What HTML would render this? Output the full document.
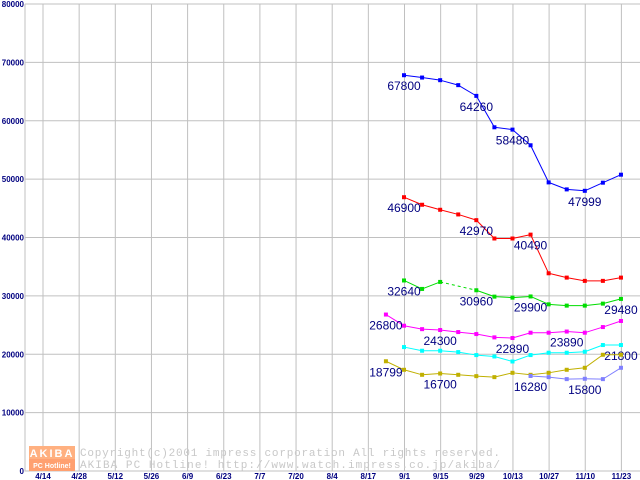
<!DOCTYPE html>
<html><head><meta charset="utf-8"><style>
body{margin:0;background:#fff}
svg{display:block}
</style></head><body>
<svg id="chart" width="640" height="480" xmlns="http://www.w3.org/2000/svg" font-family="Liberation Sans, sans-serif"></svg>
<script>
const dateLabels=["4/14","4/28","5/12","5/26","6/9","6/23","7/7","7/20","8/4","8/17","9/1","9/15","9/29","10/13","10/27","11/10","11/23"];
const yTicks=[0,10000,20000,30000,40000,50000,60000,70000,80000];
// week index relative to 9/1 (index 0); -1 = 8/25
const blueVals=[67800,67400,66950,66100,64260,58880,58480,55800,49440,48240,47999,49390,50760];
const redVals=[46900,45610,44750,43950,42970,39830,39830,40490,33870,33130,32570,32570,33130];
const greenVals=[32640,31190,32390,null,30960,29870,29700,29900,28550,28330,28330,28670,29480];
const magentaVals=[26800,24890,24300,24150,23800,23460,22890,22780,23690,23690,23890,23690,24660,25700];
const cyanVals=[21230,20600,20600,20370,19860,19620,18760,19860,20260,20260,20430,21580,21580];
const oliveVals=[18799,17340,16480,16700,16480,16250,16080,16820,16480,16820,17340,17680,19910,19910];
const lavenderVals=[16280,16080,15740,15800,15740,17680];
const series=[
 {name:"blue",color:"#0000ff",start:0,vals:blueVals,labels:{0:"67800",4:"64260",6:"58480",10:"47999"}},
 {name:"red",color:"#ff0000",start:0,vals:redVals,labels:{0:"46900",4:"42970",7:"40490"}},
 {name:"green",color:"#00dd00",start:0,vals:greenVals,labels:{0:"32640",4:"30960",7:"29900",12:"29480"}},
 {name:"magenta",color:"#ff00ff",start:-1,vals:magentaVals,labels:{0:"26800",3:"24300",7:"22890",10:"23890"}},
 {name:"cyan",color:"#00ffff",start:0,vals:cyanVals,labels:{12:"21800"}},
 {name:"olive",color:"#c0b000",start:-1,vals:oliveVals,labels:{0:"18799",3:"16700"}},
 {name:"lavender",color:"#8080ff",start:7,vals:lavenderVals,labels:{0:"16280",3:"15800"}}
];
const NS="http://www.w3.org/2000/svg";
const svg=document.getElementById('chart');
const X0=25,Y0=471,YT=4;
function yS(v){return Y0-(v/80000)*(Y0-YT);}
function xG(i){return 43+i*36.15;}
function xW(w){return 404+w*18.08;}
function mk(t,a,p){const e=document.createElementNS(NS,t);for(const k in a)e.setAttribute(k,a[k]);(p||svg).appendChild(e);return e;}
yTicks.forEach(v=>{
 const l=mk('line',{x1:X0,x2:640,y1:yS(v),y2:yS(v),stroke:'#c0c0c0','stroke-width':1});
 
 
 const t=mk('text',{x:X0-1,y:yS(v)+3,'text-anchor':'end','font-size':8,'font-weight':'bold',fill:'#000080'});
 t.textContent=v;
 
 
});
dateLabels.forEach((d,i)=>{
 const x=xG(i);
 const l=mk('line',{x1:x,x2:x,y1:YT,y2:Y0,stroke:'#c0c0c0','stroke-width':1});
 
 
 const t=mk('text',{x:x,y:479,'text-anchor':'middle','font-size':8,'font-weight':'bold',fill:'#000080'});
 t.textContent=d;
 
 
});
const ax=mk('path',{d:`M${X0} ${YT}V${Y0}H640`,stroke:'#c0c0c0',fill:'none','stroke-width':1});


const g=mk('g',{});


mk('rect',{x:29,y:446,width:46,height:13,fill:'#ffb080'},g);
mk('rect',{x:29,y:459,width:46,height:12,fill:'#ffa070'},g);
const a1=mk('text',{x:52,y:457,'text-anchor':'middle','font-size':11,fill:'#fff','font-weight':'bold','letter-spacing':2},g);a1.textContent="AKIBA";
const a2=mk('text',{x:52,y:468,'text-anchor':'middle','font-size':7,fill:'#fff','font-weight':'bold'},g);a2.textContent="PC Hotline!";
const c1=mk('text',{x:80,y:456,'font-size':11,fill:'#c8c8c8','font-family':'Liberation Mono, monospace','textLength':420},g);c1.textContent="Copyright(c)2001 impress corporation All rights reserved.";
const c2=mk('text',{x:80,y:468,'font-size':11,fill:'#c8c8c8','font-family':'Liberation Mono, monospace','textLength':420},g);c2.textContent="AKIBA PC Hotline!  http://www.watch.impress.co.jp/akiba/";
series.forEach(s=>{
 const grp=mk('g',{});
 
 
 let prev=null;
 s.vals.forEach((v,k)=>{
  if(v===null){return;}
  const x=xW(s.start+k),y=yS(v);
  if(prev){
   const dashed=(k-prev.k>1);
   const l=mk('line',{x1:prev.x,y1:prev.y,x2:x,y2:y,stroke:s.color,'stroke-width':1});
   if(dashed)l.setAttribute('stroke-dasharray','3,3');
   
   
  }
  const p=mk('rect',{x:x-2,y:y-2,width:4,height:4,fill:s.color},grp);
  
  
  prev={x,y,k};
 });
 for(const k in s.labels){
  const v=s.vals[k];
  const t=mk('text',{x:xW(s.start+ +k),y:yS(v)+15,'text-anchor':'middle','font-size':12,fill:'#000080'});
  t.textContent=s.labels[k];
  
  
 }
});
</script>
</body></html>
